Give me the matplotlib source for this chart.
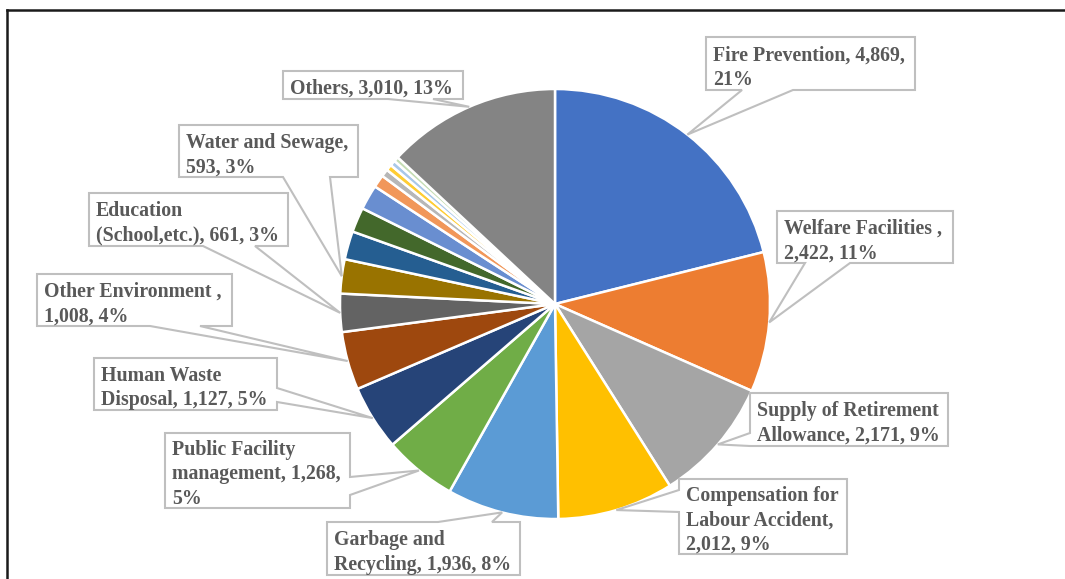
import numpy as np
import matplotlib
matplotlib.use('Agg')
import matplotlib.pyplot as plt
from matplotlib.patches import Polygon

# Spending categories (clockwise from 12 o'clock)
categories = ['Fire Prevention', 'Welfare Facilities', 'Supply of Retirement Allowance',
              'Compensation for Labour Accident', 'Garbage and Recycling',
              'Public Facility management', 'Human Waste Disposal', 'Other Environment',
              'Education (School,etc.)', 'Water and Sewage',
              'Misc 1', 'Misc 2', 'Misc 3', 'Misc 4', 'Misc 5', 'Misc 6', 'Misc 7', 'Misc 8',
              'Others']
values = [4869, 2422, 2171, 2012, 1936, 1268, 1127, 1008, 661, 593,
          490, 430, 430, 220, 130, 105, 95, 83, 3010]
colors = ['#4472C4', '#ED7D31', '#A5A5A5', '#FFC000', '#5B9BD5', '#70AD47',
          '#264478', '#9E480E', '#636363', '#997300', '#255E91', '#43682B',
          '#698ED0', '#F1975A', '#B7B7B7', '#FFCD33', '#A9C8E8', '#C5DDB5', '#848484']

# label text templates ({v} = value, {p} = percent), with the line breaks of the original
label_tmpl = {
    0: 'Fire Prevention, {v},\n{p}',
    1: 'Welfare Facilities ,\n{v}, {p}',
    2: 'Supply of Retirement\nAllowance, {v}, {p}',
    3: 'Compensation for\nLabour Accident,\n{v}, {p}',
    4: 'Garbage and\nRecycling, {v}, {p}',
    5: 'Public Facility\nmanagement, {v},\n{p}',
    6: 'Human Waste\nDisposal, {v}, {p}',
    7: 'Other Environment ,\n{v}, {p}',
    8: 'Education\n(School,etc.), {v}, {p}',
    9: 'Water and Sewage,\n{v}, {p}',
    18: 'Others, {v}, {p}',
}

W, H = 1065, 579

# callout boxes in image pixels: (x0, y0, x1, y1), pointer side, pointer base
callouts = {
    0: ((706, 37, 915, 90), 'bottom', (742, 793)),
    1: ((777, 211, 953, 263), 'bottom', (805, 850)),
    2: ((750, 393, 948, 446), 'left', (433, 446)),
    3: ((679, 479, 847, 554), 'left', (490, 512)),
    4: ((327, 522, 520, 575), 'top', (438, 492)),
    5: ((165, 433, 350, 508), 'right', (477, 495)),
    6: ((94, 358, 277, 410), 'right', (388, 402)),
    7: ((37, 274, 232, 326), 'bottom', (150, 200)),
    8: ((89, 193, 288, 246), 'bottom', (203, 255)),
    9: ((179, 125, 358, 177), 'bottom', (283, 330)),
    18: ((283, 71, 463, 99), 'bottom', (388, 433)),
}


def callout_shape(box, side, base, tip):
    x0, y0, x1, y1 = box
    a, b = base
    pts = [(x0, y0)]
    if side == 'top':
        pts += [(a, y0), tip, (b, y0)]
    pts.append((x1, y0))
    if side == 'right':
        pts += [(x1, a), tip, (x1, b)]
    pts.append((x1, y1))
    if side == 'bottom':
        pts += [(b, y1), tip, (a, y1)]
    pts.append((x0, y1))
    if side == 'left':
        pts += [(x0, b), tip, (x0, a)]
    return [(x, H - y) for x, y in pts]


fig = plt.figure(figsize=(W / 100, H / 100), dpi=100)
ax = fig.add_axes([0, 0, 1, 1])

cx, cy, r = 555, H - 304, 215
wedges, _ = ax.pie(values, colors=colors, startangle=90, counterclock=False,
                   center=(cx, cy), radius=r,
                   wedgeprops=dict(edgecolor='white', linewidth=1.8))

ax.set_xlim(0, W)
ax.set_ylim(0, H)
ax.axis('off')

total = sum(values)
for i, (box, side, base) in callouts.items():
    w = wedges[i]
    ang = np.deg2rad((w.theta1 + w.theta2) / 2)
    tip_img = (cx + r * np.cos(ang), H - (cy + r * np.sin(ang)))
    poly = Polygon(callout_shape(box, side, base, tip_img), closed=True,
                   facecolor='white', edgecolor='#BFBFBF', linewidth=1.5, zorder=3)
    ax.add_patch(poly)
    txt = label_tmpl[i].format(v=f'{values[i]:,}', p=f'{values[i] / total * 100:.0f}%')
    ax.text(box[0] + 7, H - (box[1] + box[3]) / 2 - 4, txt, ha='left', va='center',
            fontsize=14.3, fontweight='bold', family='Liberation Serif',
            color='#595959', linespacing=1.3, zorder=4)

# chart frame (top and left edges visible)
ax.plot([6.5, 6.5], [0, H - 10], color='#1a1a1a', lw=1.8, clip_on=False)
ax.plot([6.5, W], [H - 10, H - 10], color='#1a1a1a', lw=1.8, clip_on=False)

fig.savefig('out.png', dpi=100)
